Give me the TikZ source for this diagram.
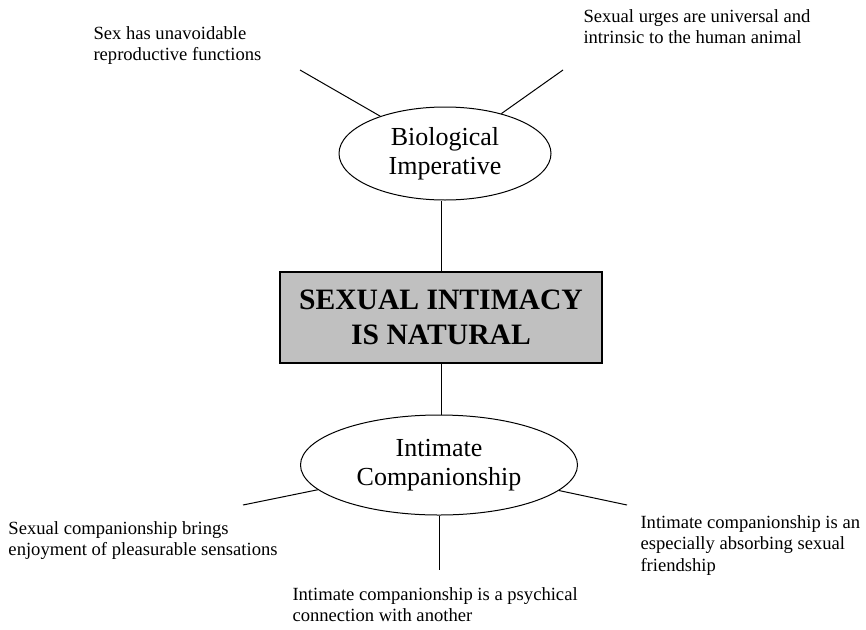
\documentclass[tikz,border=0pt]{standalone}
\usepackage{fontspec}
\setmainfont{Liberation Serif}
\usetikzlibrary{shapes.geometric}
\definecolor{boxgray}{RGB}{192,192,192}

\begin{document}
\begin{tikzpicture}[x=1pt,y=-1pt,line width=1pt,
	oval/.style={ellipse,draw,inner sep=0pt,align=center,font=\fontsize{26}{29}\selectfont},
	theme/.style={rectangle,draw,line width=1.3pt,fill=boxgray,inner sep=0pt,align=center,font=\fontsize{29.6}{35}\selectfont\bfseries},
	remark/.style={anchor=north west,inner sep=0pt,align=left,font=\fontsize{18.6}{21.5}\selectfont}]
	\useasboundingbox (0,0) rectangle (866,629);
	
	%ellipses and box
	\node[oval,minimum width=212pt,minimum height=93pt] (bio) at (445,153.5) {Biological\\Imperative};
	\node[theme,minimum width=322pt,minimum height=91pt] (sex) at (441,317.5) {SEXUAL INTIMACY\\IS NATURAL};
	\node[oval,minimum width=277pt,minimum height=100pt] (int) at (439,465) {Intimate\\Companionship};
	
	%outer labels
	\node[remark] (repro) at (93,26) {Sex has unavoidable\\reproductive functions};
	\node[remark] (urges) at (583,9) {Sexual urges are universal and\\intrinsic to the human animal};
	\node[remark] (enjoy) at (8,521) {Sexual companionship brings\\enjoyment of pleasurable sensations};
	\node[remark] (friend) at (640,515) {Intimate companionship is an\\especially absorbing sexual\\friendship};
	\node[remark] (psych) at (292,587) {Intimate companionship is a psychical\\connection with another};
	
	%free ends
	\coordinate (reproend) at (300,70);
	\coordinate (urgesend) at (563,70);
	\coordinate (enjoyend) at (243,505);
	\coordinate (friendend) at (627,505);
	\coordinate (psychend) at (439,570);
	
	%lines
	\draw (reproend) -- (bio);
	\draw (urgesend) -- (bio);
	\draw (sex.north) -- (sex.north |- bio.south);
	\draw (sex.south) -- (sex.south |- int.north);
	\draw (enjoyend) -- (int);
	\draw (friendend) -- (int);
	\draw (int) -- (psychend);
\end{tikzpicture}
\end{document}
